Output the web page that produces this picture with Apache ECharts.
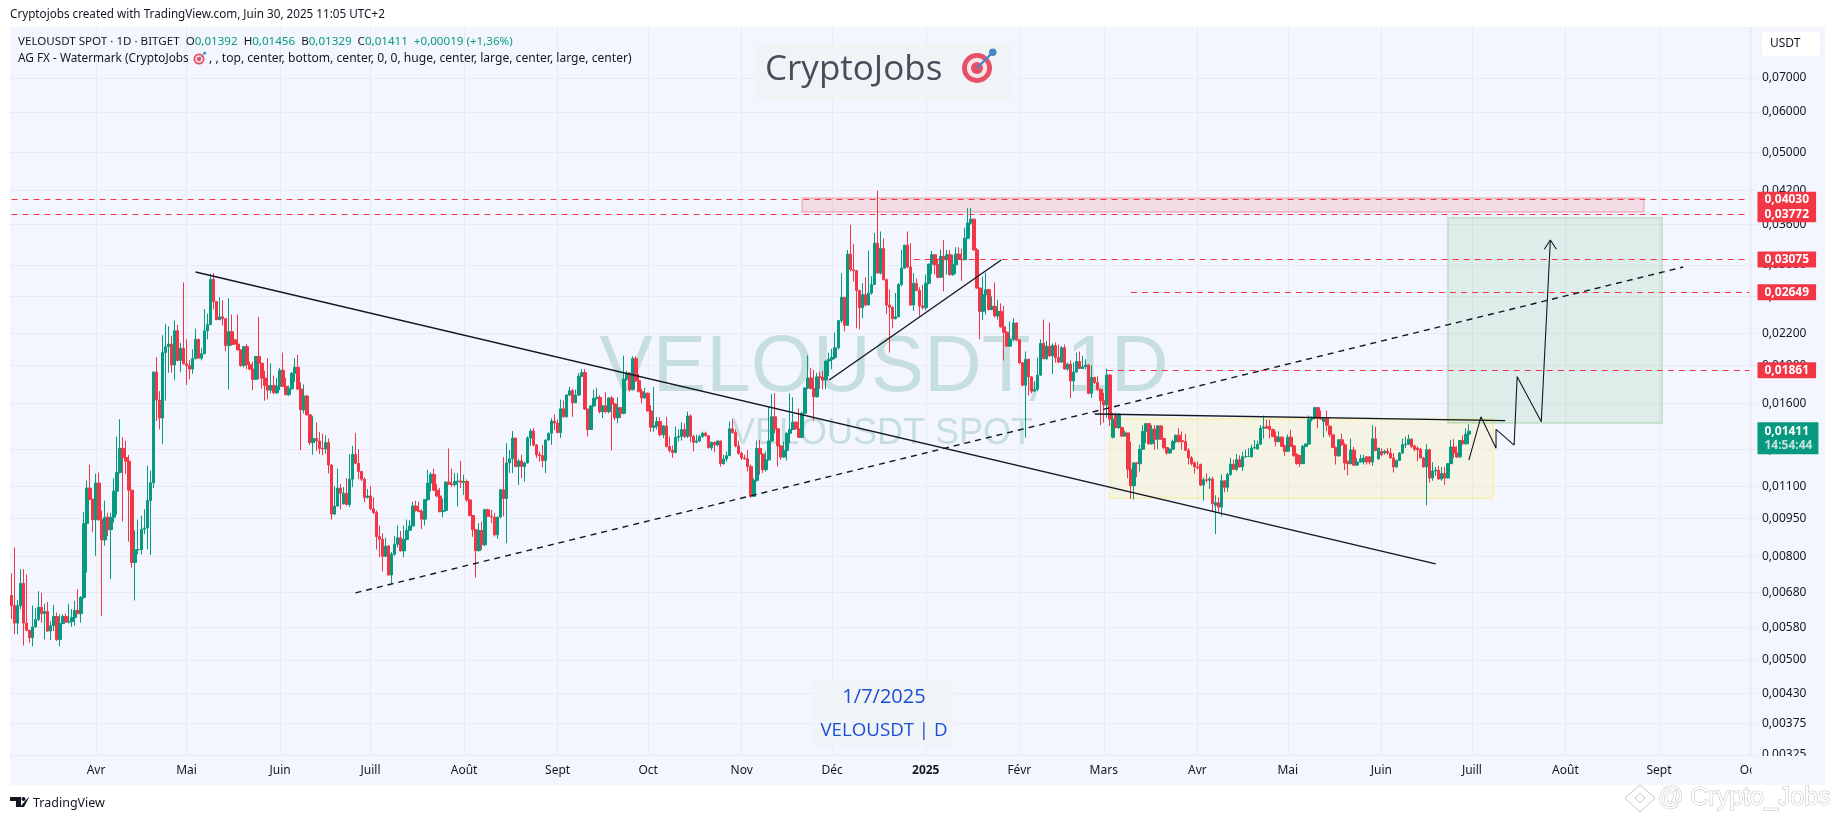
<!DOCTYPE html>
<html>
<head>
<meta charset="utf-8">
<script src="https://cdn.jsdelivr.net/npm/echarts@6/dist/echarts.min.js"></script>
<style>html,body{margin:0;padding:0;background:#fff}#main{width:1835px;height:820px}</style>
</head>
<body>
<div id="main"></div>
<script>
// daily candles from 2024-03-04, prices in 1e-5 USDT
var opens=[
670,640,591,640,708,591,572,553,581,601,
635,617,623,570,584,609,549,590,609,594,
595,606,626,617,664,928,1090,1036,945,1115,
945,862,955,903,955,1075,1170,1305,1252,1232,
1080,778,824,825,905,910,1030,1117,1845,1625,
1498,2015,2070,2095,1905,2225,1945,2055,1915,1900,
1870,1960,2140,1965,2005,2225,2290,2810,2540,2340,
2370,2350,2080,2215,2135,2095,2040,1900,2070,1910,
1870,1785,1980,1920,1795,1735,1700,1735,1680,1730,
1860,1730,1665,1710,1835,1885,1708,1555,1655,1520,
1340,1365,1350,1305,1302,1340,1210,969,1005,1090,
1015,1065,1012,1135,1270,1220,1175,1135,1045,1052,
992,976,875,864,800,838,735,808,845,870,
820,864,900,918,1005,985,980,947,1035,1115,
1160,1080,1052,980,985,1120,1110,1108,1123,1125,
1120,1123,1033,963,902,821,899,843,988,959,
956,882,956,1082,1040,1222,1245,1368,1202,1233,
1202,1222,1368,1412,1326,1268,1263,1235,1356,1398,
1477,1464,1402,1562,1506,1662,1695,1605,1662,1810,
1840,1560,1422,1582,1638,1645,1542,1582,1542,1640,
1597,1500,1569,1530,1787,1836,1704,1960,1774,1688,
1642,1676,1547,1437,1445,1474,1388,1445,1316,1293,
1281,1372,1378,1422,1378,1512,1378,1342,1350,1378,
1398,1382,1309,1342,1326,1350,1218,1244,1263,1426,
1402,1320,1276,1250,1245,1202,1050,1129,1305,1272,
1185,1239,1350,1506,1426,1320,1255,1293,1398,1422,
1470,1426,1372,1530,1716,1795,1712,1650,1805,1800,
1780,1940,1955,1970,2060,2330,2590,2280,3150,2935,
2920,2670,2470,2620,2500,2640,2745,3310,2890,3230,
2805,2500,2475,2350,2370,2745,2955,3280,2970,2500,
2760,2670,2490,2470,2760,3010,3140,3000,2835,3115,
3070,3140,2870,3000,3150,3075,3070,3385,3625,3690,
3210,2700,2430,2620,2680,2450,2485,2380,2430,2265,
2210,2075,2140,2305,2135,1925,1738,1955,1805,1692,
1706,1820,2100,1960,2075,1985,2080,1970,1930,2060,
1870,1912,1772,1845,1935,1875,1890,1905,1675,1800,
1760,1706,1620,1590,1820,1373,1522,1435,1435,1380,
1400,1187,1102,1222,1218,1300,1410,1460,1333,1424,
1361,1445,1365,1310,1278,1300,1346,1385,1352,1346,
1293,1250,1222,1200,1215,1105,1132,1130,1136,1008,
1020,1000,1127,1094,1160,1215,1187,1240,1200,1256,
1258,1258,1307,1302,1330,1430,1442,1442,1422,1377,
1346,1373,1320,1288,1373,1320,1268,1262,1218,1317,
1331,1490,1496,1570,1496,1474,1496,1443,1388,1311,
1262,1357,1327,1231,1218,1295,1210,1227,1227,1256,
1256,1227,1363,1244,1288,1278,1288,1278,1250,1200,
1236,1278,1327,1330,1361,1320,1307,1300,1250,1200,
1297,1141,1178,1182,1136,1165,1141,1218,1313,1278,
1256,1352,1333,1392];
var closes=[
640,591,640,708,591,572,553,581,601,635,
617,623,570,584,609,549,590,609,594,595,
606,626,617,664,928,1090,1036,945,1115,945,
862,955,903,955,1075,1170,1305,1252,1232,1080,
778,824,825,905,910,1030,1117,1845,1625,1498,
2015,2070,2095,1905,2225,1945,2055,1915,1900,1870,
1960,2140,1965,2005,2225,2290,2810,2540,2340,2370,
2350,2080,2215,2090,2095,2040,1900,2070,1910,1870,
1785,1980,1920,1795,1735,1700,1735,1680,1730,1860,
1730,1665,1710,1835,1885,1708,1555,1655,1520,1340,
1365,1350,1305,1302,1340,1210,969,1005,1090,1065,
1065,1012,1135,1270,1220,1175,1135,1045,1052,992,
976,875,864,800,838,735,808,845,870,820,
864,900,918,1005,985,980,947,1035,1115,1160,
1080,1052,980,985,1120,1110,1108,1123,1125,1120,
1123,1033,963,902,821,899,843,988,959,956,
882,956,1082,1040,1222,1245,1368,1202,1233,1202,
1222,1368,1412,1326,1268,1263,1235,1356,1398,1477,
1464,1402,1562,1506,1662,1695,1605,1662,1810,1840,
1560,1422,1582,1638,1645,1542,1582,1542,1640,1597,
1500,1569,1530,1787,1836,1704,1960,1774,1688,1642,
1676,1547,1437,1445,1474,1388,1445,1316,1293,1281,
1372,1378,1422,1378,1512,1378,1342,1350,1378,1398,
1382,1309,1342,1326,1350,1218,1244,1263,1426,1402,
1320,1276,1250,1245,1202,1050,1129,1305,1272,1185,
1239,1350,1506,1426,1320,1255,1293,1398,1422,1470,
1426,1372,1530,1716,1795,1712,1650,1805,1800,1780,
1940,1955,1970,2060,2330,2590,2280,3150,2935,2920,
2670,2470,2620,2500,2640,2745,3310,2890,3230,2805,
2500,2475,2350,2370,2745,2955,3280,2970,2500,2760,
2670,2490,2470,2760,3010,3140,3000,2835,3115,3070,
3140,2870,3000,3150,3075,3070,3385,3625,3690,3210,
2700,2430,2620,2680,2450,2485,2380,2430,2265,2210,
2075,2140,2305,2135,1925,1738,1955,1805,1692,1706,
1820,2100,1960,2075,1985,2080,1970,1930,2060,1870,
1912,1772,1845,1935,1875,1890,1905,1675,1800,1760,
1706,1620,1590,1820,1490,1490,1435,1525,1380,1400,
1187,1102,1222,1218,1300,1410,1460,1333,1424,1361,
1445,1361,1310,1278,1300,1346,1385,1346,1346,1293,
1250,1218,1200,1195,1105,1132,1130,1136,1015,1020,
1000,1127,1094,1160,1215,1187,1240,1200,1256,1258,
1258,1307,1310,1330,1430,1438,1430,1422,1377,1346,
1373,1317,1288,1373,1317,1262,1218,1218,1317,1331,
1490,1496,1570,1496,1491,1491,1450,1390,1311,1262,
1357,1327,1222,1218,1295,1210,1227,1245,1250,1227,
1227,1363,1293,1307,1268,1288,1278,1250,1200,1236,
1278,1327,1330,1361,1317,1300,1297,1250,1200,1297,
1141,1178,1182,1136,1165,1141,1218,1313,1278,1256,
1352,1333,1392,1411];
var lows=[
602,562,562,630,534,570,541,532,579,596,
592,549,568,547,570,545,532,588,592,590,
581,584,615,592,660,743,1033,892,802,940,
611,840,877,722,933,966,1165,937,1163,855,
760,655,807,807,885,826,805,1090,1478,1422,
1330,1620,1840,1840,1780,1935,1845,1910,1740,1785,
1830,1955,1960,1945,2000,2140,2280,2450,2335,2335,
2280,2025,1705,2080,2090,2035,1890,1885,1870,1860,
1700,1780,1785,1710,1620,1630,1675,1670,1670,1700,
1725,1660,1655,1705,1765,1700,1295,1530,1515,1325,
1268,1290,1272,1266,1275,1165,945,965,1000,990,
1012,1007,1000,1095,1215,1135,1125,1022,1040,988,
969,825,797,747,797,733,708,802,833,818,
797,860,898,918,980,977,905,920,1030,1075,
1075,1045,977,955,980,1105,1095,1097,1003,1090,
1057,1025,959,874,727,817,824,837,956,930,
875,866,951,959,849,1167,1167,1198,1106,1140,
1123,1218,1320,1316,1250,1229,1198,1167,1352,1326,
1418,1398,1368,1502,1502,1655,1506,1602,1655,1802,
1554,1378,1418,1575,1628,1530,1497,1530,1530,1293,
1483,1462,1497,1523,1774,1688,1696,1765,1682,1602,
1632,1542,1408,1408,1422,1378,1368,1311,1281,1250,
1276,1346,1352,1368,1368,1342,1287,1336,1342,1368,
1378,1305,1293,1283,1316,1202,1212,1229,1260,1395,
1311,1268,1239,1239,1175,1043,1048,1123,1158,1167,
1175,1235,1346,1398,1202,1239,1250,1235,1336,1418,
1422,1368,1368,1525,1706,1706,1480,1644,1710,1706,
1706,1812,1870,1955,2045,2305,2220,2280,2910,2780,
2250,2240,2355,2485,2500,2620,2740,2885,2870,2795,
2400,2015,2250,2340,2365,2720,2950,2955,2490,2435,
2660,2380,2450,2440,2745,2880,2870,2820,2830,2660,
2870,2855,2855,2880,3070,2790,3065,3370,3600,3200,
2690,2140,2335,2395,2440,2440,2365,2340,2255,1945,
2070,2070,2125,2125,1912,1730,1370,1658,1675,1690,
1692,1812,1955,1950,1980,1830,1925,1920,1925,1865,
1855,1640,1692,1840,1870,1870,1870,1668,1640,1745,
1692,1450,1467,1500,1445,1365,1430,1425,1375,1378,
1140,1038,1035,1145,1175,1298,1337,1327,1327,1297,
1300,1357,1300,1268,1275,1297,1337,1340,1297,1290,
1213,1208,1165,1187,1100,1030,1118,1086,979,885,
979,958,1070,1073,1152,1183,1178,1197,1178,1250,
1255,1250,1300,1297,1327,1365,1428,1365,1373,1317,
1342,1313,1262,1285,1313,1258,1213,1200,1215,1313,
1328,1475,1490,1430,1486,1373,1410,1373,1307,1213,
1258,1320,1183,1155,1215,1205,1205,1222,1213,1213,
1213,1205,1288,1240,1260,1268,1268,1244,1170,1195,
1232,1274,1307,1326,1307,1288,1231,1247,1195,1008,
1118,1127,1152,1132,1127,1105,1138,1215,1250,1250,
1250,1329,1327,1329];
var highs=[
741,833,656,755,755,737,574,640,632,683,
678,645,650,596,642,620,615,615,617,645,
630,654,689,668,979,1128,1212,1040,1163,1170,
985,1030,975,975,1140,1375,1490,1372,1350,1267,
1082,900,945,962,990,1206,1180,1848,1975,1692,
2180,2295,2270,2175,2330,2285,2105,2770,2140,1950,
2045,2245,2145,2060,2455,2405,2880,2890,2545,2590,
2555,2355,2580,2395,2140,2395,2045,2075,2095,1935,
1935,1985,2370,1925,1855,1965,1920,1815,1795,1880,
2015,1795,1735,1845,1965,1995,1760,1745,1662,1522,
1510,1468,1405,1395,1385,1365,1215,1100,1190,1110,
1095,1140,1270,1320,1400,1300,1180,1143,1085,1100,
1045,985,920,888,870,842,816,877,920,898,
920,945,942,1025,1030,1025,990,1038,1185,1170,
1190,1110,1090,1040,1125,1305,1190,1167,1167,1233,
1158,1134,1036,963,905,930,937,993,993,988,
975,956,1085,1255,1336,1296,1412,1368,1244,1268,
1229,1378,1426,1431,1331,1287,1326,1358,1402,1497,
1523,1488,1628,1622,1670,1725,1710,1704,1836,1870,
1870,1560,1588,1704,1716,1662,1588,1682,1645,1655,
1602,1645,1574,1988,1855,1844,1982,1982,1830,1710,
1716,1682,1588,1725,1506,1502,1451,1505,1378,1322,
1441,1422,1470,1462,1542,1523,1388,1388,1388,1408,
1408,1388,1345,1346,1352,1352,1268,1287,1474,1488,
1422,1352,1287,1268,1296,1212,1140,1352,1356,1276,
1287,1575,1670,1676,1431,1326,1346,1402,1676,1645,
1474,1565,1542,1722,1990,1880,1865,1840,1847,1855,
1940,2015,2050,2205,2330,2890,2590,3210,3600,3295,
2935,2680,2760,2835,3200,2850,3465,4200,3490,3380,
2820,2680,2485,2640,2760,3210,3285,3490,3310,2890,
2820,2710,2740,2870,3015,3195,3140,3075,3215,3355,
3210,3210,3140,3250,3250,3230,3550,3880,3880,3700,
3240,2705,2845,2895,2690,2600,2770,2560,2520,2490,
2220,2320,2355,2310,2140,1930,2025,1960,1812,1772,
1970,2140,2340,2125,2310,2100,2110,2090,2075,2090,
1925,1945,1925,2015,2025,1985,1955,1912,1905,1805,
1810,1712,1680,1875,1830,1533,1535,1530,1440,1415,
1400,1345,1225,1226,1327,1450,1465,1463,1450,1450,
1450,1450,1370,1312,1305,1357,1390,1430,1410,1395,
1307,1260,1231,1231,1215,1143,1165,1148,1148,1055,
1045,1160,1130,1168,1250,1240,1272,1265,1285,1297,
1307,1327,1357,1352,1450,1515,1486,1486,1428,1410,
1410,1377,1327,1390,1420,1327,1278,1268,1327,1337,
1515,1509,1575,1575,1550,1496,1550,1450,1390,1317,
1361,1395,1337,1235,1365,1315,1250,1268,1268,1260,
1260,1450,1440,1307,1307,1297,1307,1307,1278,1240,
1282,1365,1377,1390,1365,1327,1317,1307,1254,1331,
1303,1226,1200,1205,1200,1200,1222,1357,1361,1317,
1357,1385,1430,1456];

var firstDay='2024-03-04',lastDay='2025-10-01';
var monthTicks={'2024-04-01':'Avr','2024-05-01':'Mai','2024-06-01':'Juin','2024-07-01':'Juill','2024-08-01':'Août','2024-09-01':'Sept','2024-10-01':'Oct','2024-11-01':'Nov','2024-12-01':'Déc','2025-01-01':'{y|2025}','2025-02-01':'Févr','2025-03-01':'Mars','2025-04-01':'Avr','2025-05-01':'Mai','2025-06-01':'Juin','2025-07-01':'Juill','2025-08-01':'Août','2025-09-01':'Sept','2025-10-01':'Oct'};
var priceTicks=[0.07,0.06,0.05,0.042,0.036,0.03,0.026,0.022,0.019,0.016,0.013,0.011,0.0095,0.008,0.0068,0.0058,0.005,0.0043,0.00375,0.00325];
var priceMin=0.00325,priceMax=0.0882;

// horizontal levels: price, day the dashes start
var levels=[[0.0403,firstDay],[0.03772,firstDay],[0.03075,'2024-12-28'],[0.02649,'2025-03-10'],[0.01861,'2025-03-02']];
var lastPrice=0.01411;

// drawings
var downTrend=[['2024-05-04',0.02904],['2025-06-19',0.00773]];
var upTrend=[['2024-06-26',0.00678],['2025-09-09',0.0297]];
var shortTrend=[['2024-11-30',0.0178],['2025-01-26',0.03066]];
var neckline=[['2025-02-26',0.01525],['2025-07-12',0.0148]];
var forecast=[['2025-06-30',0.01238],['2025-07-04',0.01506],['2025-07-09',0.01306],['2025-07-09',0.01423],['2025-07-15',0.01325],['2025-07-16',0.01807],['2025-07-24',0.01473],['2025-07-27',0.03357]];
var arrowHead=[['2025-07-25',0.0322],['2025-07-27',0.03357],['2025-07-29',0.0322]];
var resistanceBox=[['2024-11-21',0.0406],['2025-08-27',0.0381]];
var baseBox=[['2025-03-03',0.01491],['2025-07-08',0.01042]];
var targetBox=[['2025-06-23',0.03715],['2025-09-02',0.01464]];

var days=[];
var d=new Date(firstDay+'T00:00:00Z');
while(d.toISOString().slice(0,10)<=lastDay){
    days.push(d.toISOString().slice(0,10));
    d=new Date(d.getTime()+86400000);
}
var candles=opens.map(function(o,i){
    return [o/1e5,closes[i]/1e5,lows[i]/1e5,highs[i]/1e5];
});

function comma(v){return v.toFixed(5).replace('.',',')}

var UI='"Noto Sans",sans-serif';
var GREEN='#089981',RED='#f23645',INK='#131722',GRID='#e8ebf4',PANE='#f3f6fe';

function levelLine(l){
    return [{xAxis:l[1],yAxis:l[0],
             label:{show:true,position:'end',distance:8,formatter:comma(l[0]),color:'#fff',backgroundColor:RED,
                    fontFamily:UI,fontSize:12,fontWeight:'bold',padding:[2,7,2,7],borderRadius:1}},
            {xAxis:lastDay,yAxis:l[0]}];
}
function drawn(name,data,dashed,width){
    return {name:name,type:'line',data:data,symbol:'none',silent:true,animation:false,z:4,
            lineStyle:{color:INK,width:width||1.4,type:dashed?[6,5]:'solid'}};
}
function zone(c,fill,border){
    return [{itemStyle:{color:fill,borderColor:border,borderWidth:2},xAxis:c[0][0],yAxis:c[0][1]},
            {xAxis:c[1][0],yAxis:c[1][1]}];
}

function target(cx,cy,r){
    return [
        {type:'circle',z:20,shape:{cx:cx,cy:cy,r:r},style:{fill:'#e8506a'}},
        {type:'circle',z:20,shape:{cx:cx,cy:cy,r:r*0.68},style:{fill:'#f6e7ea'}},
        {type:'circle',z:20,shape:{cx:cx,cy:cy,r:r*0.4},style:{fill:'#e8506a'}},
        {type:'line',z:21,shape:{x1:cx,y1:cy,x2:cx+r*1.1,y2:cy-r*1.1},style:{stroke:'#4a86c8',lineWidth:Math.max(1,r*0.16)}},
        {type:'circle',z:21,shape:{cx:cx+r*1.05,cy:cy-r*1.05,r:r*0.25},style:{fill:'#4a86c8'}}
    ];
}

var legendRich={d:{fill:INK,fontFamily:UI,fontSize:11.6},g:{fill:GREEN,fontFamily:UI,fontSize:11.6}};

var graphics=[
    {type:'rect',z:-10,shape:{x:10,y:27,width:1815,height:758},style:{fill:PANE}},
    // clips the last tick label and the last month
    {type:'rect',z:30,shape:{x:1751.5,y:756,width:73,height:28},style:{fill:PANE}},
    {type:'rect',z:30,shape:{x:1761,y:31,width:60,height:26,r:4},style:{fill:'#fff',stroke:'#eef0f6'}},
    {type:'text',z:31,x:1770,y:44,style:{text:'USDT',fill:INK,font:'12px '+UI,textVerticalAlign:'middle'}},

    {type:'text',x:10,y:15,style:{text:'Cryptojobs created with TradingView.com, Juin 30, 2025 11:05 UTC+2',fill:INK,font:'11.7px '+UI,textVerticalAlign:'middle'}},
    {type:'text',z:20,x:18,y:42,style:{text:'{d|VELOUSDT SPOT · 1D · BITGET  O}{g|0,01392}{d|  H}{g|0,01456}{d|  B}{g|0,01329}{d|  C}{g|0,01411}{g|  +0,00019 (+1,36%)}',rich:legendRich,textVerticalAlign:'middle'}},
    {type:'text',z:20,x:18,y:59,style:{text:'AG FX - Watermark (CryptoJobs',fill:INK,font:'11.8px '+UI,textVerticalAlign:'middle'}},
    {type:'text',z:20,x:209,y:59,style:{text:', , top, center, bottom, center, 0, 0, huge, center, large, center, large, center)',fill:INK,font:'12.1px '+UI,textVerticalAlign:'middle'}},

    // symbol watermark under the candles
    {type:'text',z:1,x:884,y:369,style:{text:'VELOUSDT, 1D',fill:'#c6dedf',font:'80px "Liberation Sans",sans-serif',textAlign:'center',textVerticalAlign:'middle'}},
    {type:'text',z:1,x:882,y:434,style:{text:'VELOUSDT SPOT',fill:'#c6dedf',font:'36px "Liberation Sans",sans-serif',textAlign:'center',textVerticalAlign:'middle'}},

    // indicator boxes
    {type:'rect',z:1,shape:{x:755,y:44,width:257,height:56},style:{fill:'#f1f4f7'}},
    {type:'text',z:20,x:765,y:70,style:{text:'CryptoJobs',fill:'#454f5b',font:'35px "Open Sans",sans-serif',textVerticalAlign:'middle'}},
    {type:'rect',z:1,shape:{x:814,y:680,width:139,height:67},style:{fill:'#f1f4f7'}},
    {type:'text',z:20,x:884,y:697,style:{text:'1/7/2025',fill:'#1a4fd6',font:'20px "Open Sans",sans-serif',textAlign:'center',textVerticalAlign:'middle'}},
    {type:'text',z:20,x:884,y:731,style:{text:'VELOUSDT | D',fill:'#1a4fd6',font:'18.7px "Open Sans",sans-serif',textAlign:'center',textVerticalAlign:'middle'}},

    // footer
    {type:'polygon',shape:{points:[[10,797],[21,797],[21,807],[16,807],[16,801],[10,801]]},style:{fill:INK}},
    {type:'circle',shape:{cx:23.5,cy:799,r:2},style:{fill:INK}},
    {type:'polygon',shape:{points:[[25,801],[29,797],[29,797.5],[24,807],[20,807]]},style:{fill:INK}},
    {type:'text',x:33,y:803,style:{text:'TradingView',fill:INK,font:'12.5px '+UI,textVerticalAlign:'middle'}},
    {type:'polygon',shape:{points:[[1640,785],[1655,798],[1640,812],[1625,798]]},style:{fill:'#fff',stroke:'#c9c9c9',lineWidth:1}},
    {type:'polygon',shape:{points:[[1640,793],[1645,798],[1640,803],[1635,798]]},style:{fill:'#fff',stroke:'#c9c9c9',lineWidth:1}},
    {type:'text',x:1658,y:798,style:{text:'@ Crypto_Jobs',fill:'#fff',stroke:'#bdbdbd',lineWidth:1,font:'25px "Liberation Sans",sans-serif',textVerticalAlign:'middle'}}
].concat(target(977,68,15),target(199,59,5.5));

var series=[
    {name:'zones',type:'line',data:[],silent:true,z:1,animation:false,
     markArea:{silent:true,animation:false,z:1,data:[
        zone(resistanceBox,'rgba(242,54,69,0.13)','rgba(242,54,69,0.22)'),
        zone(baseBox,'rgba(255,235,120,0.2)','rgba(255,235,120,0.4)'),
        zone(targetBox,'rgba(76,175,80,0.12)','rgba(76,175,80,0.22)')
     ]}},
    {name:'VELOUSDT',type:'candlestick',data:candles,barWidth:3,animation:false,z:3,
     itemStyle:{color:GREEN,color0:RED,borderColor:GREEN,borderColor0:RED,borderWidth:1},
     markLine:{silent:true,animation:false,symbol:'none',z:6,
        lineStyle:{color:RED,width:1,type:[6,5]},
        data:levels.map(levelLine).concat([[
            {xAxis:firstDay,yAxis:lastPrice,lineStyle:{color:'rgba(0,0,0,0)'},
             label:{show:true,position:'end',distance:8,offset:[0,7],
                    formatter:'{a|0,01411}\n{b|14:54:44}',backgroundColor:GREEN,padding:[2,6,2,7],
                    rich:{a:{color:'#fff',fontFamily:UI,fontSize:12,fontWeight:'bold',lineHeight:14},
                          b:{color:'#c5e3dc',fontFamily:UI,fontSize:12,fontWeight:'bold',lineHeight:14}}}},
            {xAxis:lastDay,yAxis:lastPrice}
        ]])}},
    drawn('down trend',downTrend),
    drawn('up trend',upTrend,true),
    drawn('short trend',shortTrend),
    drawn('neckline',neckline),
    drawn('forecast',forecast,false,1.1),
    drawn('arrow head',arrowHead,false,1.1)
];

var chart=echarts.init(document.getElementById('main'),null,{renderer:'canvas'});
chart.setOption({
    animation:false,
    backgroundColor:'#fff',
    grid:{left:10,right:84,top:27,bottom:65},
    xAxis:{type:'category',data:days,boundaryGap:true,
        axisLine:{show:true,lineStyle:{color:GRID}},
        axisTick:{show:false,alignWithLabel:true},
        axisLabel:{color:INK,fontFamily:UI,fontSize:12,margin:10,hideOverlap:false,
            interval:function(i,v){return !!monthTicks[v]},
            formatter:function(v){return monthTicks[v]||''},
            rich:{y:{color:INK,fontFamily:UI,fontSize:12,fontWeight:'bold'}}},
        splitLine:{show:true,alignWithLabel:true,lineStyle:{color:GRID,width:1},
            interval:function(i,v){return !!monthTicks[v]}}},
    yAxis:{type:'log',logBase:10,position:'right',min:priceMin,max:priceMax,
        axisLine:{show:true,lineStyle:{color:GRID}},
        axisTick:{show:true,length:6,lineStyle:{color:GRID},customValues:priceTicks},
        axisLabel:{color:INK,fontFamily:UI,fontSize:12,margin:11,customValues:priceTicks,formatter:comma},
        splitLine:{show:true,lineStyle:{color:GRID,width:1}},
        minorTick:{show:false},minorSplitLine:{show:false}},
    graphic:{elements:graphics},
    series:series
});
</script>
</body>
</html>
